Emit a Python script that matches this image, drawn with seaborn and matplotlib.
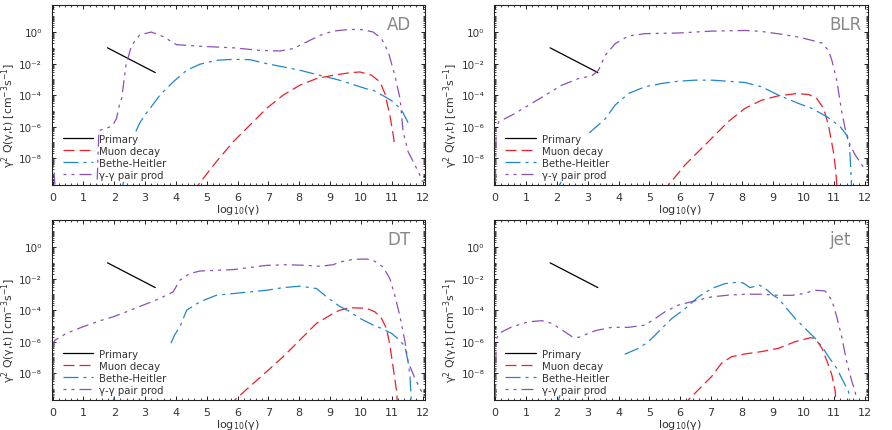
import numpy as np
import pandas as pd
import matplotlib
matplotlib.use("Agg")
import matplotlib.pyplot as plt
import matplotlib.ticker as mticker
from matplotlib.lines import Line2D
import seaborn as sns

# ---- data: log10(gamma) and log10(gamma^2 Q) per panel ------------------
panels = ["AD", "BLR", "DT", "jet"]

primary_x = [1.78, 3.33]
primary_logy = [-1.0, -2.57]

# AD
ad_gg_x = [0.0, 0.05, 0.12, 1.42, 1.5, 1.93, 2.07, 2.18, 2.24, 2.38, 2.56, 2.83, 3.2, 3.6, 4.02, 4.78,
           5.86, 6.72, 7.37, 7.8, 8.24, 8.67, 9.1, 9.64, 10.07, 10.4, 10.67, 10.89, 11.1, 11.27, 11.32,
           11.37, 11.53, 11.75, 11.91, 12.0]
ad_gg_y = [-7.9, -9.0, -11.0, -11.0, -6.25, -5.97, -5.5, -4.5, -4.2, -2.1, -0.84, -0.17, 0.0, -0.3, -0.8,
           -0.9, -1.0, -1.16, -1.2, -1.05, -0.63, -0.21, 0.06, 0.17, 0.15, 0.0, -0.42, -1.26, -2.74,
           -4.21, -5.27, -6.32, -7.58, -8.42, -9.06, -9.5]
ad_bh_x = [2.7, 2.83, 3.03, 3.16, 3.48, 3.91, 4.35, 4.78, 5.32, 5.86, 6.4, 6.94, 7.48, 8.02, 8.56, 9.1,
           9.32, 9.64, 10.18, 10.4, 10.78, 11.05, 11.32, 11.49, 11.53]
ad_bh_y = [-6.3, -5.75, -5.16, -4.84, -4.0, -3.16, -2.42, -2.04, -1.79, -1.73, -1.75, -2.0, -2.21, -2.42,
           -2.69, -2.95, -3.06, -3.26, -3.6, -3.69, -4.1, -4.42, -4.95, -5.58, -5.75]
ad_bh_stub_x = [2.2, 2.3]
ad_bh_stub_y = [-10.4, -9.5]
ad_mu_x = [4.6, 4.72, 5.32, 5.86, 6.4, 6.94, 7.48, 8.02, 8.56, 9.1, 9.64, 9.97, 10.35, 10.62, 10.78,
           10.94, 11.05, 11.1]
ad_mu_y = [-10.2, -9.7, -8.2, -6.95, -5.9, -4.84, -4.0, -3.37, -2.95, -2.74, -2.58, -2.53, -2.74, -3.16,
           -3.9, -5.27, -6.53, -7.27]

# BLR
blr_gg_x = [0.0, 0.03, 0.12, 0.55, 1.09, 1.63, 2.16, 2.7, 3.13, 3.35, 3.57, 3.89, 4.32, 4.86, 5.94,
            7.02, 8.1, 8.6, 9.19, 9.84, 10.22, 10.6, 10.81, 10.92, 11.08, 11.24, 11.35, 11.51, 11.68,
            11.89, 12.0]
blr_gg_y = [-10.5, -6.1, -5.68, -5.26, -4.63, -4.0, -3.37, -2.95, -2.78, -2.42, -1.47, -0.74, -0.25,
            -0.1, -0.06, 0.06, 0.1, 0.05, -0.11, -0.32, -0.5, -0.7, -1.16, -1.79, -3.06, -5.05, -6.1,
            -7.16, -7.8, -8.42, -8.7]
blr_bh_x = [3.05, 3.57, 3.89, 4.32, 4.86, 5.4, 5.94, 6.48, 7.02, 7.56, 8.1, 8.64, 9.19, 9.84, 10.27,
            10.76, 11.19, 11.4, 11.49, 11.51, 11.55, 11.57]
blr_bh_y = [-6.4, -5.5, -4.63, -3.9, -3.47, -3.26, -3.12, -3.05, -3.05, -3.12, -3.2, -3.47, -4.0, -4.53,
            -4.84, -5.37, -6.0, -6.53, -7.16, -7.8, -9.27, -10.5]
blr_bh_stub_x = [1.97, 2.14]
blr_bh_stub_y = [-10.1, -9.5]
blr_mu_x = [5.5, 5.62, 6.16, 7.02, 7.56, 8.1, 8.64, 9.19, 9.79, 10.17, 10.43, 10.65, 10.81, 10.97,
            11.05, 11.08, 11.1]
blr_mu_y = [-10.2, -9.7, -8.42, -6.74, -5.68, -4.84, -4.32, -4.04, -3.9, -3.96, -4.21, -4.84, -5.9,
            -7.58, -8.84, -9.7, -10.5]

# DT
dt_gg_x = [0.0, 0.04, 0.08, 0.45, 0.99, 1.54, 1.97, 2.4, 2.94, 3.48, 3.91, 4.13, 4.45, 4.78, 5.86,
           6.94, 7.59, 8.24, 8.67, 9.1, 9.32, 9.75, 10.18, 10.4, 10.72, 10.94, 11.1, 11.26, 11.43,
           11.53, 11.75, 11.97, 12.05]
dt_gg_y = [-9.5, -6.0, -5.9, -5.47, -5.05, -4.67, -4.42, -4.1, -3.68, -3.26, -2.84, -2.1, -1.68, -1.52,
           -1.43, -1.16, -1.12, -1.16, -1.22, -1.12, -0.95, -0.78, -0.76, -0.84, -1.26, -2.0, -3.06,
           -4.32, -6.0, -7.26, -8.32, -9.16, -9.5]
dt_bh_x = [3.84, 3.95, 4.13, 4.35, 4.78, 5.32, 5.86, 6.4, 6.94, 7.48, 8.02, 8.56, 8.89, 9.3, 9.6,
           10.0, 10.4, 10.67, 11.0, 11.26, 11.43, 11.53, 11.59, 11.62, 11.65]
dt_bh_y = [-6.1, -5.6, -5.05, -4.0, -3.47, -3.05, -2.95, -2.84, -2.74, -2.57, -2.48, -2.63, -3.16,
           -3.75, -4.05, -4.55, -4.95, -5.16, -5.48, -5.9, -6.32, -7.26, -8.11, -9.16, -10.5]
dt_bh_stub_x = [1.9, 2.0]
dt_bh_stub_y = [-10.2, -9.5]
dt_mu_x = [5.8, 5.91, 6.4, 6.94, 7.48, 8.02, 8.56, 9.1, 9.32, 9.64, 10.18, 10.45, 10.67, 10.83, 10.94,
           11.05, 11.16, 11.2]
dt_mu_y = [-10.2, -9.7, -8.84, -7.9, -6.95, -5.9, -4.84, -4.21, -4.0, -3.85, -3.88, -4.1, -4.53, -5.16,
           -6.21, -7.69, -9.16, -10.5]

# jet
jet_gg_x = [0.0, 0.03, 0.12, 0.55, 1.09, 1.52, 1.84, 2.17, 2.49, 2.7, 3.25, 3.78, 4.32, 4.86, 5.19,
            5.51, 5.94, 6.48, 7.02, 7.56, 8.1, 8.64, 9.19, 9.63, 10.0, 10.38, 10.7, 10.92, 11.08,
            11.24, 11.4, 11.57, 11.68, 11.75]
jet_gg_y = [-10.5, -5.9, -5.47, -5.05, -4.74, -4.67, -4.84, -5.26, -5.68, -5.73, -5.3, -5.09, -5.09,
            -4.95, -4.53, -4.1, -3.68, -3.41, -3.16, -3.05, -2.99, -2.99, -3.06, -3.06, -2.95, -2.74,
            -2.78, -3.37, -4.42, -5.69, -7.26, -8.53, -9.16, -10.5]
jet_bh_x = [4.2, 4.65, 4.97, 5.19, 5.4, 5.73, 6.16, 6.59, 7.02, 7.45, 7.77, 8.04, 8.26, 8.58, 8.8,
            9.01, 9.19, 9.41, 9.73, 10.11, 10.38, 10.6, 10.81, 11.08, 11.24, 11.46, 11.55]
jet_bh_y = [-6.8, -6.42, -6.0, -5.58, -5.16, -4.53, -3.9, -3.16, -2.63, -2.32, -2.25, -2.27, -2.57,
            -2.42, -2.69, -3.05, -3.27, -3.79, -4.53, -5.27, -5.79, -6.32, -6.95, -7.69, -8.32, -9.16,
            -10.5]
jet_bh_stub_x = [1.97, 2.1]
jet_bh_stub_y = [-10.2, -9.4]
jet_mu_x = [6.2, 6.26, 6.59, 7.02, 7.34, 7.67, 8.1, 8.64, 9.19, 9.73, 10.22, 10.38, 10.6, 10.81, 10.92,
            11.03, 11.08]
jet_mu_y = [-10.2, -9.7, -9.05, -8.21, -7.37, -6.95, -6.78, -6.63, -6.42, -6.0, -5.75, -5.79, -6.42,
            -7.48, -8.11, -9.16, -10.5]

series_names = ["Primary", "Muon decay", "Bethe-Heitler", "γ-γ pair prod"]
colors = {"Primary": "#000000", "Muon decay": "#e8202a",
          "Bethe-Heitler": "#1f86cc", "γ-γ pair prod": "#8b4fb8"}
lw = 0.9
dash_styles = {"Primary": "",
               "Muon decay": (8.8, 4.0),
               "Bethe-Heitler": (12.0, 4.0, 2.4, 4.0),
               "γ-γ pair prod": (2.4, 4.0, 2.4, 4.0, 9.6, 4.0)}

panel_data = {
    "AD": {"Muon decay": [(ad_mu_x, ad_mu_y)],
           "Bethe-Heitler": [(ad_bh_stub_x, ad_bh_stub_y), (ad_bh_x, ad_bh_y)],
           "γ-γ pair prod": [(ad_gg_x, ad_gg_y)]},
    "BLR": {"Muon decay": [(blr_mu_x, blr_mu_y)],
            "Bethe-Heitler": [(blr_bh_stub_x, blr_bh_stub_y), (blr_bh_x, blr_bh_y)],
            "γ-γ pair prod": [(blr_gg_x, blr_gg_y)]},
    "DT": {"Muon decay": [(dt_mu_x, dt_mu_y)],
           "Bethe-Heitler": [(dt_bh_stub_x, dt_bh_stub_y), (dt_bh_x, dt_bh_y)],
           "γ-γ pair prod": [(dt_gg_x, dt_gg_y)]},
    "jet": {"Muon decay": [(jet_mu_x, jet_mu_y)],
            "Bethe-Heitler": [(jet_bh_stub_x, jet_bh_stub_y), (jet_bh_x, jet_bh_y)],
            "γ-γ pair prod": [(jet_gg_x, jet_gg_y)]},
}


def build_frame(name):
    """Long-form table: one row per point, 'seg' separates disjoint pieces."""
    rows = []
    seg = 0
    for x, y in zip(primary_x, primary_logy):
        rows.append(("Primary", seg, x, 10.0 ** y))
    seg += 1
    for sname, segments in panel_data[name].items():
        for sx, sy in segments:
            for x, y in zip(sx, sy):
                rows.append((sname, seg, x, 10.0 ** y))
            seg += 1
    return pd.DataFrame(rows, columns=["series", "seg", "loggamma", "q"])


SUP = str.maketrans("-0123456789", "⁻⁰¹²³⁴⁵⁶⁷⁸⁹")


def pow10_label(v, pos):
    return "10" + str(int(round(np.log10(v)))).translate(SUP)


sns.set_style("ticks")
plt.rcParams.update({
    "font.family": ["DejaVu Sans"],
    "xtick.direction": "in", "ytick.direction": "in",
    "xtick.top": True, "ytick.right": True,
    "axes.edgecolor": "#222222", "axes.linewidth": 0.8,
    "xtick.color": "#222222", "ytick.color": "#222222",
    "xtick.labelcolor": "#333333", "ytick.labelcolor": "#333333",
    "axes.labelcolor": "#333333",
})

fig = plt.figure(figsize=(8.92, 4.31), dpi=100)
W, H = 892.0, 431.0
boxes = {"AD": (51.7, 6.0), "BLR": (494.3, 6.0), "DT": (51.7, 221.0), "jet": (494.3, 221.0)}
aw, ah = 373.3, 180.0

major_y = [1e-8, 1e-6, 1e-4, 1e-2, 1e0]

for name in panels:
    left, top = boxes[name]
    ax = fig.add_axes([left / W, 1 - (top + ah) / H, aw / W, ah / H])
    df = build_frame(name)
    sns.lineplot(data=df, x="loggamma", y="q", hue="series", style="series", units="seg",
                 estimator=None, sort=False, palette=colors, dashes=dash_styles,
                 hue_order=series_names, style_order=series_names,
                 linewidth=lw, legend=False, ax=ax)
    ax.set_yscale("log")
    ax.set_xlim(-0.03, 12.08)
    ax.set_ylim(2e-10, 52)

    ax.xaxis.set_major_locator(mticker.MultipleLocator(1))
    ax.xaxis.set_minor_locator(mticker.MultipleLocator(0.2))
    ax.yaxis.set_major_locator(mticker.FixedLocator(major_y))
    ax.yaxis.set_major_formatter(mticker.FuncFormatter(pow10_label))
    ax.yaxis.set_minor_locator(mticker.LogLocator(base=10, subs=np.arange(1, 10), numticks=100))
    ax.yaxis.set_minor_formatter(mticker.NullFormatter())
    ax.tick_params(which="major", length=3.2, width=0.7)
    ax.tick_params(axis="x", which="major", pad=5, labelsize=8)
    ax.tick_params(axis="y", which="major", pad=7, labelsize=7.5)
    ax.tick_params(which="minor", length=1.6, width=0.6)

    ax.set_xlabel("log$_{10}$(γ)", fontsize=8)
    ax.xaxis.set_label_coords(0.498, -0.094)
    ax.xaxis.label.set_va("top")
    ax.set_ylabel("γ$^2$ Q(γ,t) [cm$^{-3}$s$^{-1}$]", fontsize=7.8)
    ax.yaxis.set_label_coords(-0.091, 0.39)

    ax.text(0.898, 0.867, name, transform=ax.transAxes, ha="left", va="baseline",
            fontsize=12, color="#888888")

    handles = [Line2D([], [], color=colors[s], lw=lw,
                      dashes=dash_styles[s] if dash_styles[s] else (None, None))
               for s in series_names]
    ax.legend(handles, series_names, loc="lower left", bbox_to_anchor=(0.03, 0.03),
              frameon=False, fontsize=7.3, handlelength=3.0, handletextpad=0.6,
              labelspacing=0.2, borderaxespad=0, borderpad=0, labelcolor="#333333")

fig.savefig("out.png", dpi=100)
